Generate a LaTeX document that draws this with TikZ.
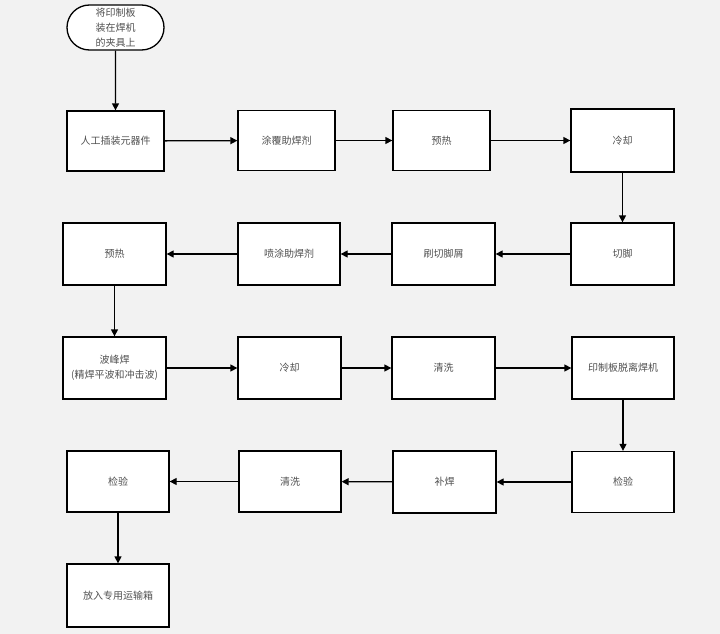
\documentclass[tikz,border=0pt]{standalone}
\usepackage{fontspec}
\setmainfont{Noto Sans CJK SC}
\usetikzlibrary{arrows.meta,shapes.misc}
\definecolor{bgc}{HTML}{F2F2F2}
\definecolor{txt}{HTML}{505050}
\begin{document}
\begin{tikzpicture}[x=1pt,y=-1pt,
  procbox/.style={draw=black,line width=1.3pt,fill=white,rectangle,inner sep=0pt,
    text=txt,font=\fontsize{10}{15}\selectfont,align=center,
    minimum width=#1pt,minimum height=62pt},
  procbox/.default=102,
  startbox/.style={draw=black,line width=1.3pt,fill=white,rounded rectangle,inner sep=0pt,
    text=txt,font=\fontsize{10}{15}\selectfont,align=center,
    minimum width=97pt,minimum height=45pt},
  flow/.style={line width=1.3pt,-{Triangle[length=7pt,width=7pt]}}]
\fill[bgc] (0,0) rectangle (720,634);
\useasboundingbox (0,0) rectangle (720,634);
% start
\node[startbox] (s) at (115.5,27.5) {将印制板\\装在焊机\\的夹具上};
% row 1
\node[procbox=97,minimum height=60pt] (a1) at (115.5,141) {人工插装元器件};
\node[procbox=97,minimum height=60pt] (a2) at (286.5,140.5) {涂覆助焊剂};
\node[procbox=97,minimum height=60pt] (a3) at (441.5,140.5) {预热};
\node[procbox=103,minimum height=63pt] (a4) at (622.5,140.5) {冷却};
% row 2
\node[procbox=103] (b4) at (622.5,254) {切脚};
\node[procbox=103] (b3) at (443.5,254) {刷切脚屑};
\node[procbox=102] (b2) at (289,254) {喷涂助焊剂};
\node[procbox=103] (b1) at (114.5,254) {预热};
% row 3
\node[procbox=103] (c1) at (114.5,368) {波峰焊\\(精焊平波和冲击波)};
\node[procbox=103] (c2) at (289.5,368) {冷却};
\node[procbox=103] (c3) at (443.5,368) {清洗};
\node[procbox=102] (c4) at (623,368) {印制板脱离焊机};
% row 4
\node[procbox=102,minimum height=61pt] (d4) at (623,482) {检验};
\node[procbox=103,minimum height=62pt] (d3) at (444.5,482) {补焊};
\node[procbox=102,minimum height=61pt] (d2) at (290,481.5) {清洗};
\node[procbox=102,minimum height=61pt] (d1) at (118,481.5) {检验};
% row 5
\node[procbox=102,minimum height=63pt] (e1) at (118,595.5) {放入专用运输箱};
% connectors
\draw[flow] (s) -- (a1);
\draw[flow] (a1) -- (a2);
\draw[flow] (a2) -- (a3);
\draw[flow] (a3) -- (a4);
\draw[flow] (a4) -- (b4);
\draw[flow] (b4) -- (b3);
\draw[flow] (b3) -- (b2);
\draw[flow] (b2) -- (b1);
\draw[flow] (b1) -- (c1);
\draw[flow] (c1) -- (c2);
\draw[flow] (c2) -- (c3);
\draw[flow] (c3) -- (c4);
\draw[flow] (c4) -- (d4);
\draw[flow] (d4) -- (d3);
\draw[flow] (d3) -- (d2);
\draw[flow] (d2) -- (d1);
\draw[flow] (d1) -- (e1);
\end{tikzpicture}
\end{document}
